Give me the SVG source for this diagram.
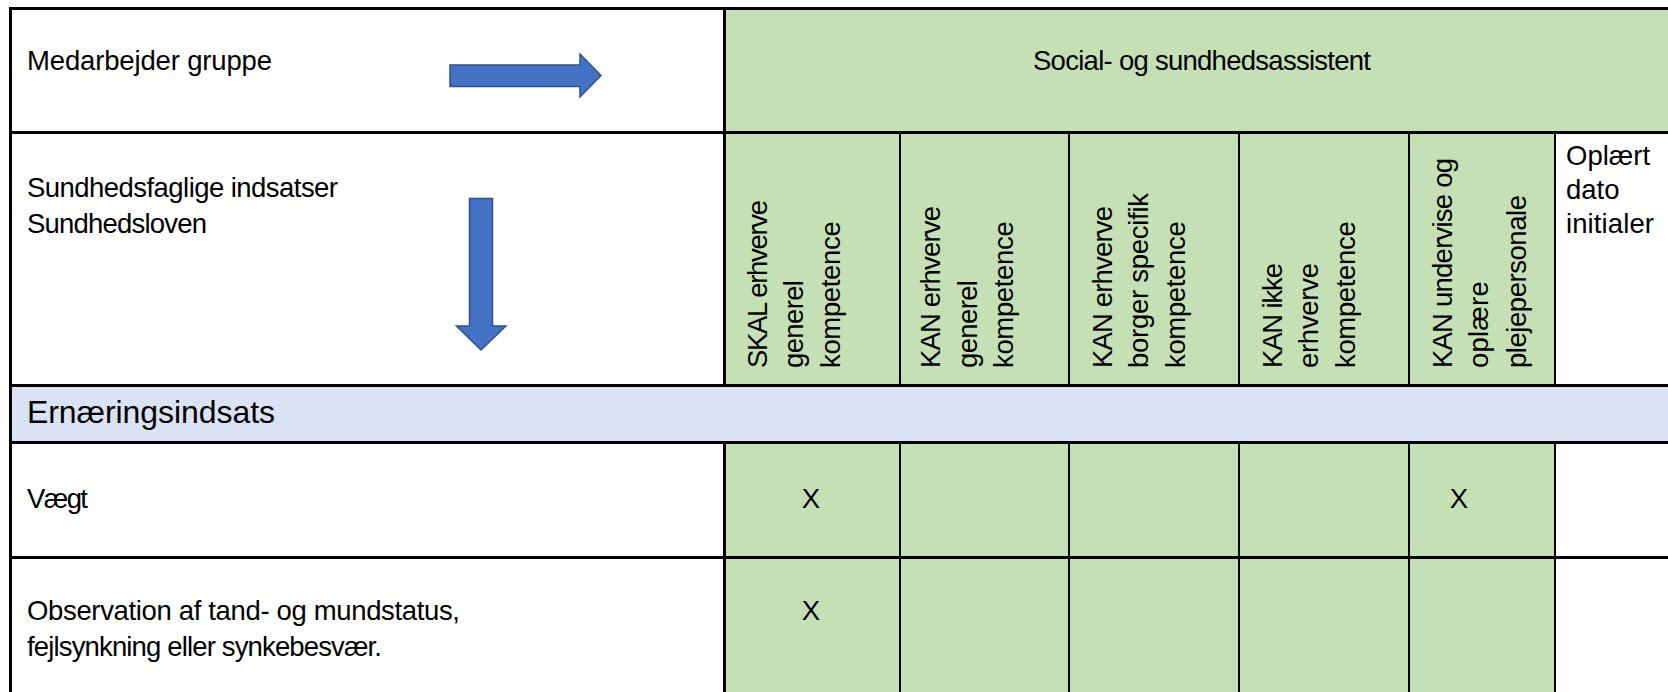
<svg xmlns="http://www.w3.org/2000/svg" width="1668" height="692" viewBox="0 0 1668 692">
<style>
.t{font-family:"Liberation Sans",Arial,sans-serif;font-size:27.5px;fill:#000}
.h{font-family:"Liberation Sans",Arial,sans-serif;font-size:32px;fill:#000}
.g{fill:#C5E0B4}
.w{fill:#FFFFFF}
.b{fill:#DAE3F3}
.thick{stroke:#000;stroke-width:3;fill:none}
.thin{stroke:#000;stroke-width:2;fill:none}
.arrow{fill:#4472C4;stroke:#2F528F;stroke-width:1.5}
</style>
<rect x="0" y="0" width="1668" height="692" fill="#FFFFFF"/>
<g id="backgrounds">
<rect class="w" x="10" y="9" width="714" height="123"/>
<rect class="g" x="724" y="9" width="944" height="123"/>
<rect class="w" x="10" y="132" width="714" height="254"/>
<rect class="g" x="724" y="132" width="831" height="254"/>
<rect class="w" x="1555" y="132" width="113" height="254"/>
<rect class="b" x="10" y="386" width="1658" height="57"/>
<rect class="w" x="10" y="443" width="714" height="249"/>
<rect class="g" x="724" y="443" width="831" height="249"/>
<rect class="w" x="1555" y="443" width="113" height="249"/>
</g>
<g id="header-row">
<text class="t" x="27" y="70" textLength="245">Medarbejder gruppe</text>
<text class="t" x="1202" y="70" text-anchor="middle" textLength="338">Social- og sundhedsassistent</text>
</g>
<g id="arrow-right">
<polygon class="arrow" points="450,65 580,65 580,54 601,75.5 580,97 580,86.5 450,86.5"/>
</g>
<g id="arrow-down">
<polygon class="arrow" points="469.5,198.5 492.5,198.5 492.5,326 506,326 481,350 456.5,326 469.5,326"/>
</g>
<g id="subheader-row">
<text class="t" x="27" y="197" textLength="311">Sundhedsfaglige indsatser</text>
<text class="t" x="27" y="233" textLength="180">Sundhedsloven</text>
</g>
<g id="col-skal-generel">
<text class="t" transform="translate(766.7,368) rotate(-90)" textLength="168">SKAL erhverve</text>
<text class="t" transform="translate(803,368) rotate(-90)" textLength="88">generel</text>
<text class="t" transform="translate(840,368) rotate(-90)" textLength="146.7">kompetence</text>
</g>
<g id="col-kan-generel">
<text class="t" transform="translate(940,368) rotate(-90)" textLength="162">KAN erhverve</text>
<text class="t" transform="translate(976.7,368) rotate(-90)" textLength="88">generel</text>
<text class="t" transform="translate(1013.3,368) rotate(-90)" textLength="146.7">kompetence</text>
</g>
<g id="col-kan-borger">
<text class="t" transform="translate(1111.7,368) rotate(-90)" textLength="162">KAN erhverve</text>
<text class="t" transform="translate(1148.3,368) rotate(-90)" textLength="175">borger specifik</text>
<text class="t" transform="translate(1185,368) rotate(-90)" textLength="146.7">kompetence</text>
</g>
<g id="col-kan-ikke">
<text class="t" transform="translate(1281.7,368) rotate(-90)" textLength="105">KAN ikke</text>
<text class="t" transform="translate(1318.3,368) rotate(-90)" textLength="105">erhverve</text>
<text class="t" transform="translate(1355,368) rotate(-90)" textLength="146.7">kompetence</text>
</g>
<g id="col-kan-undervise">
<text class="t" transform="translate(1451.7,368) rotate(-90)" textLength="210">KAN undervise og</text>
<text class="t" transform="translate(1488.3,368) rotate(-90)" textLength="86.7">oplære</text>
<text class="t" transform="translate(1526,368) rotate(-90)" textLength="173">plejepersonale</text>
</g>
<g id="col-oplaert">
<text class="t" x="1566" y="165">Oplært</text>
<text class="t" x="1566" y="199">dato</text>
<text class="t" x="1566" y="233" textLength="88">initialer</text>
</g>
<g id="section-ernaering">
<text class="h" x="27" y="423" textLength="248">Ernæringsindsats</text>
</g>
<g id="row-vaegt">
<text class="t" x="27" y="508" textLength="61">Vægt</text>
<text class="t" x="811" y="508" text-anchor="middle">X</text>
<text class="t" x="1459" y="508" text-anchor="middle">X</text>
</g>
<g id="row-observation">
<text class="t" x="27" y="620" textLength="433">Observation af tand- og mundstatus,</text>
<text class="t" x="27" y="656" textLength="355">fejlsynkning eller synkebesvær.</text>
<text class="t" x="811" y="620" text-anchor="middle">X</text>
</g>
<g id="connectors">
<line class="thick" x1="9" y1="8.5" x2="1668" y2="8.5"/>
<line class="thick" x1="10.5" y1="7" x2="10.5" y2="692"/>
<line class="thick" x1="9" y1="132.5" x2="1668" y2="132.5"/>
<line class="thick" x1="9" y1="385.5" x2="1668" y2="385.5"/>
<line class="thick" x1="9" y1="442.5" x2="1668" y2="442.5"/>
<line class="thick" x1="9" y1="557.5" x2="1668" y2="557.5"/>
<line class="thick" x1="724.5" y1="8.5" x2="724.5" y2="385.5"/>
<line class="thick" x1="724.5" y1="442.5" x2="724.5" y2="692"/>
<line class="thin" x1="900" y1="132.5" x2="900" y2="385.5"/>
<line class="thin" x1="1069" y1="132.5" x2="1069" y2="385.5"/>
<line class="thin" x1="1239" y1="132.5" x2="1239" y2="385.5"/>
<line class="thin" x1="1409" y1="132.5" x2="1409" y2="385.5"/>
<line class="thin" x1="1555" y1="132.5" x2="1555" y2="385.5"/>
<line class="thin" x1="900" y1="442.5" x2="900" y2="692"/>
<line class="thin" x1="1069" y1="442.5" x2="1069" y2="692"/>
<line class="thin" x1="1239" y1="442.5" x2="1239" y2="692"/>
<line class="thin" x1="1409" y1="442.5" x2="1409" y2="692"/>
<line class="thin" x1="1555" y1="442.5" x2="1555" y2="692"/>
</g>
</svg>
